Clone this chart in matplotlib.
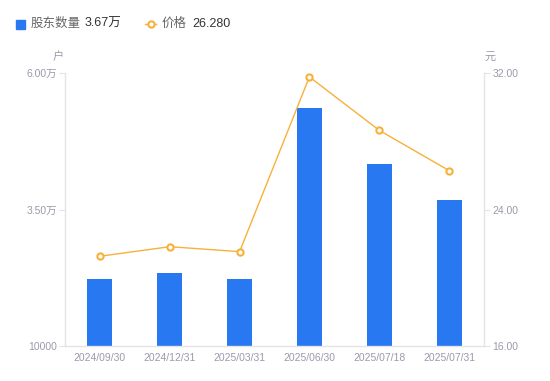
import matplotlib
matplotlib.use('Agg')
import matplotlib.pyplot as plt
from matplotlib.lines import Line2D
from matplotlib.patches import Rectangle

plt.rcParams['font.family'] = ['Liberation Sans', 'Noto Sans CJK SC', 'DejaVu Sans']

# 数据
dates = ['2024/09/30', '2024/12/31', '2025/03/31', '2025/06/30', '2025/07/18', '2025/07/31']
holders = [22270, 23320, 22250, 53650, 43390, 36700]  # 股东数量(户)
prices = [21.26, 21.82, 21.53, 31.77, 28.64, 26.28]  # 价格(元)

left_ticks = [10000, 35000, 60000]
left_labels = ['10000', '3.50万', '6.00万']
right_ticks = [16, 24, 32]
right_labels = ['16.00', '24.00', '32.00']

bar_color = '#2878F2'
line_color = '#F7B13A'
axis_color = '#E3E3E8'
tick_color = '#9A9AAB'

fig = plt.figure(figsize=(5.5, 3.81), dpi=100)
ax = fig.add_axes([65 / 550, 1 - 346 / 381, 419 / 550, 273 / 381])
x = list(range(len(dates)))
ax.bar(x, holders, width=0.36, color=bar_color, zorder=2)
ax.set_xlim(-0.5, len(dates) - 0.5)
ax.set_ylim(10000, 60000)
ax.set_yticks(left_ticks)
ax.set_yticklabels(left_labels)
ax.set_xticks(x)
ax.set_xticklabels(dates)

ax2 = ax.twinx()
ax2.plot(x, prices, color=line_color, lw=1, marker='o', ms=4.5, mfc='white',
         mec=line_color, mew=1.5, zorder=3)
ax2.set_ylim(16, 32)
ax2.set_yticks(right_ticks)
ax2.set_yticklabels(right_labels)

for a in (ax, ax2):
    for s in a.spines.values():
        s.set_visible(False)
ax.spines['left'].set_visible(True)
ax.spines['bottom'].set_visible(True)
ax2.spines['right'].set_visible(True)
for s in (ax.spines['left'], ax.spines['bottom'], ax2.spines['right']):
    s.set_color(axis_color)
    s.set_linewidth(1)

ax.tick_params(axis='y', colors=axis_color, labelcolor=tick_color, labelsize=7.5, length=4, pad=2)
ax.tick_params(axis='x', length=0, labelcolor=tick_color, labelsize=7.5, pad=5)
ax2.tick_params(axis='y', colors=axis_color, labelcolor=tick_color, labelsize=7.5, length=4, pad=2)

# 单位
fig.text(58 / 550, 1 - 57 / 381, '户', color=tick_color, fontsize=8, ha='center', va='center')
fig.text(490 / 550, 1 - 57 / 381, '元', color=tick_color, fontsize=8, ha='center', va='center')

# 图例
ly = 1 - 24 / 381
fig.patches.append(Rectangle((16 / 550, ly - 4.5 / 381), 9 / 550, 9 / 381, transform=fig.transFigure,
                             color=bar_color, figure=fig))
fig.text(31 / 550, ly, '股东数量', color='#666666', fontsize=9, va='center')
fig.text(85 / 550, ly, '3.67万', color='#333333', fontsize=9, va='center')
fig.lines.append(Line2D([145 / 550, 156 / 550], [ly, ly], transform=fig.transFigure, color=line_color,
                        lw=1, figure=fig))
fig.lines.append(Line2D([150.5 / 550], [ly], transform=fig.transFigure, marker='o', ms=4.5, mfc='white',
                        mec=line_color, mew=1.5, figure=fig))
fig.text(162 / 550, ly, '价格', color='#666666', fontsize=9, va='center')
fig.text(192 / 550, ly, '26.280', color='#333333', fontsize=9, va='center')

fig.savefig('out.png', dpi=100)
